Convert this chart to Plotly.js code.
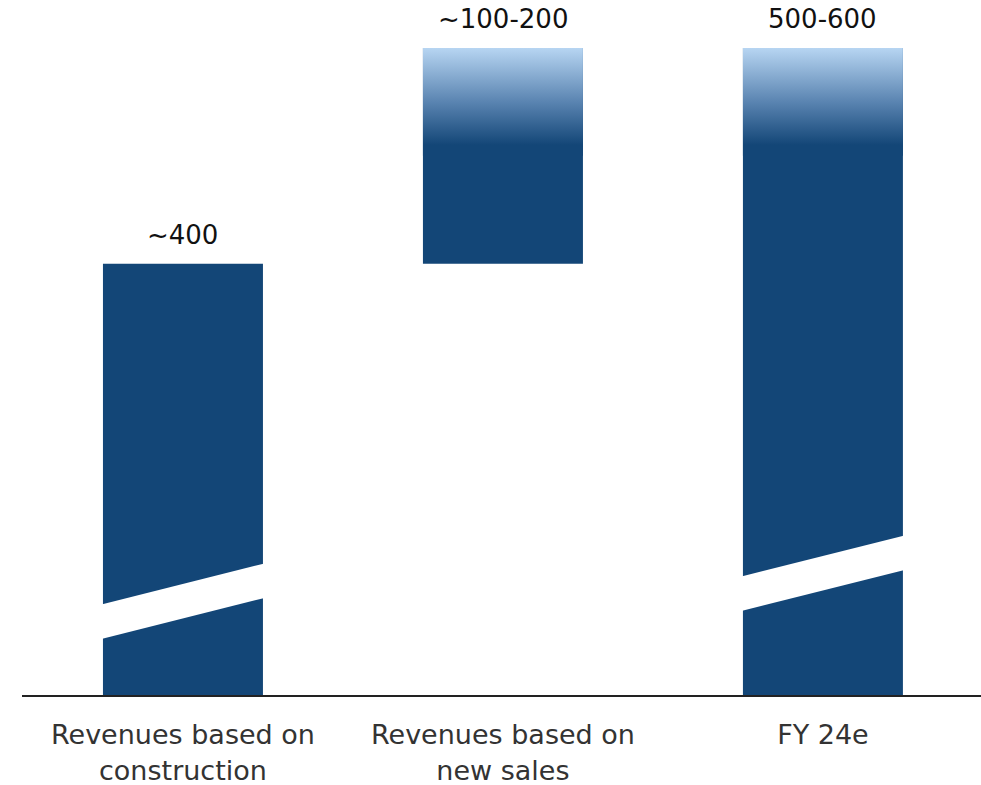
<!DOCTYPE html>
<html>
<head>
<meta charset="utf-8">
<script src="https://cdn.plot.ly/plotly-3.0.1.min.js"></script>
<style>html,body{margin:0;padding:0;background:#fff;}#chart{width:981px;height:785px;}</style>
</head>
<body>
<div id="chart"></div>
<script>
// ---- data ----
var categories = ["Revenues based on<br>construction", "Revenues based on<br>new sales", "FY 24e"];
var barBase = [0, 400, 0];
var barHeight = [400, 200, 600];
var valueLabels = ["~400", "~100-200", "500-600"];
// uncertainty range (gradient) per bar: [low, high] or null
var rangeLow = [null, 500, 500];
var rangeHigh = [null, 600, 600];
// axis-break stripe (lower-left edge, data units) per bar or null
var breakLow = [52, null, 78];

// ---- style ----
var DARK = "#134677";
var BAR_W = 0.5;
var BREAK_RISE = 38, BREAK_THICK = 32;
var FONT = "'DejaVu Sans', 'Noto Sans', sans-serif";

var xs = categories.map(function(_, i){ return i; });
var traces = [];
traces.push({
  type: "bar", x: xs, y: barHeight, base: barBase, width: BAR_W,
  marker: {color: DARK, line: {width: 0}}, hoverinfo: "skip", showlegend: false
});
xs.forEach(function(i){
  if (rangeLow[i] === null) return;
  var x0 = i - BAR_W/2, x1 = i + BAR_W/2;
  traces.push({
    type: "scatter", mode: "none", fill: "toself",
    x: [x0, x1, x1, x0, x0],
    y: [rangeLow[i], rangeLow[i], rangeHigh[i], rangeHigh[i], rangeLow[i]],
    fillgradient: {type: "vertical", start: rangeLow[i], stop: rangeHigh[i],
      colorscale: [[0, DARK], [0.1, DARK], [0.5, "#5a84b1"], [1, "#b7d5f2"]]},
    hoverinfo: "skip", showlegend: false
  });
});
xs.forEach(function(i){
  if (breakLow[i] === null) return;
  var x0 = i - BAR_W/2 - 0.005, x1 = i + BAR_W/2 + 0.005;
  var b = breakLow[i];
  traces.push({
    type: "scatter", mode: "none", fill: "toself", fillcolor: "#ffffff",
    x: [x0, x1, x1, x0, x0],
    y: [b, b + BREAK_RISE, b + BREAK_RISE + BREAK_THICK, b + BREAK_THICK, b],
    hoverinfo: "skip", showlegend: false
  });
});

var annotations = xs.map(function(i){
  return {x: i, y: barBase[i] + barHeight[i], text: valueLabels[i], showarrow: false,
    yanchor: "bottom", yshift: 12, font: {family: FONT, size: 26, color: "#111"}};
});

var layout = {
  width: 981, height: 785,
  margin: {l: 22, r: 0, t: 0, b: 90},
  paper_bgcolor: "#fff", plot_bgcolor: "#fff",
  showlegend: false,
  xaxis: {range: [-0.503, 2.494], tickvals: xs, ticktext: categories, showgrid: false, zeroline: false,
    showline: true, linecolor: "#222", linewidth: 2, ticks: "", fixedrange: true, ticklabelstandoff: 15,
    tickfont: {family: FONT, size: 27, color: "#333"}},
  yaxis: {range: [0, 644.5], visible: false, showgrid: false, zeroline: false, fixedrange: true},
  annotations: annotations
};
Plotly.newPlot("chart", traces, layout, {displayModeBar: false, staticPlot: true});
</script>
</body>
</html>
